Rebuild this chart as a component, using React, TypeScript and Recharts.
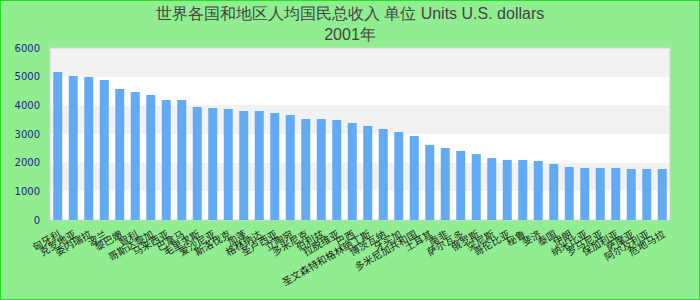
import React from 'react';
import { BarChart, Bar, XAxis, YAxis, CartesianGrid, ReferenceArea } from 'recharts';

const titleLine1 = '世界各国和地区人均国民总收入 单位 Units U.S. dollars';
const titleLine2 = '2001年';

const countries = [
  '匈牙利', '克罗地亚', '委内瑞拉', '波兰', '黎巴嫩', '智利', '哥斯达黎加', '马来西亚',
  '巴拿马', '毛里求斯', '爱沙尼亚', '斯洛伐克', '加蓬', '格林纳达', '圣卢西亚', '立陶宛',
  '多米尼克', '伯利兹', '拉脱维亚', '巴西', '圣文森特和格林纳丁斯', '博茨瓦纳', '牙买加', '多米尼加共和国',
  '土耳其', '南非', '萨尔瓦多', '俄罗斯', '突尼斯', '哥伦比亚', '秘鲁', '斐济',
  '泰国', '伊朗', '纳米比亚', '罗马尼亚', '保加利亚', '萨摩亚', '阿尔及利亚', '危地马拉',
];

const values = [
  5160, 5020, 4990, 4880, 4570, 4465, 4360, 4190,
  4190, 3940, 3905, 3870, 3800, 3800, 3730, 3660,
  3525, 3525, 3490, 3385, 3280, 3175, 3070, 2930,
  2620, 2510, 2410, 2300, 2160, 2095, 2095, 2060,
  1955, 1850, 1815, 1815, 1815, 1780, 1780, 1780,
];

const yTicks = [0, 1000, 2000, 3000, 4000, 5000, 6000];

const data = countries.map((name, i) => ({ name, value: values[i] }));

export default function App() {
  return (
    <div
      style={{
        position: 'relative',
        width: 700,
        height: 300,
        boxSizing: 'border-box',
        background: '#90ee90',
        border: '1px solid #22dd22',
        overflow: 'hidden',
      }}
    >
      <style>{'body{margin:0}'}</style>
      <div
        style={{
          position: 'absolute',
          top: 2,
          left: 0,
          width: 698,
          textAlign: 'center',
          fontFamily: '"Liberation Sans", Arial, sans-serif',
          fontSize: 16,
          lineHeight: '21px',
          color: '#444',
        }}
      >
        <div>{titleLine1}</div>
        <div>{titleLine2}</div>
      </div>
      <div style={{ position: 'absolute', top: -1, left: -1 }}>
        <BarChart
          width={700}
          height={300}
          data={data}
          margin={{ top: 48, right: 30, left: 0, bottom: 0 }}
          barCategoryGap="21%"
        >
          <CartesianGrid
            vertical={false}
            stroke="none"
            fill="#ffffff"
            horizontalFill={['#f2f2f2', '#ffffff']}
          />
          <ReferenceArea y1={0} y2={6000} fill="none" stroke="#d4d4d4" strokeWidth={1} />
          <XAxis
            dataKey="name"
            interval={0}
            height={80}
            axisLine={false}
            tickLine={false}
            tickMargin={4}
            tick={{
              angle: -30,
              textAnchor: 'end',
              fontSize: 10,
              fill: '#222',
              fontFamily: '"Noto Sans CJK SC", sans-serif',
            }}
          />
          <YAxis
            domain={[0, 6000]}
            ticks={yTicks}
            width={50}
            axisLine={false}
            tickLine={false}
            tickMargin={4}
            tick={{ fontSize: 10, fill: '#1c1c8c', fontFamily: '"DejaVu Sans", sans-serif' }}
          />
          <Bar dataKey="value" fill="#62aaf4" isAnimationActive={false} />
        </BarChart>
      </div>
    </div>
  );
}
